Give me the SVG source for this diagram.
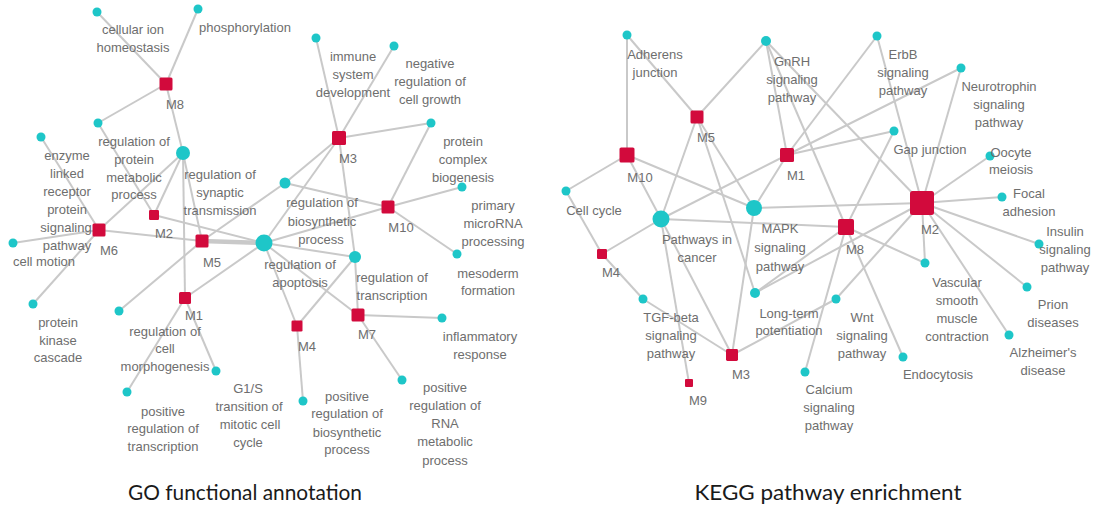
<svg xmlns="http://www.w3.org/2000/svg" width="1099" height="509" viewBox="0 0 1099 509">
<style>
.e{stroke:#c9c9c9;stroke-width:2;fill:none}
.ek{stroke:#c9c9c9;stroke-width:4.5;fill:none}
.c{fill:#1ec6c8}
.s{fill:#d20a3c}
text{font-family:"Liberation Sans",Arial,sans-serif;font-size:13px;fill:#6e6e6e;text-anchor:middle}
.t{font-family:Lato,"Liberation Sans",sans-serif;font-size:22px;fill:#1a1a1a}
</style>
<rect width="1099" height="509" fill="#ffffff"/>
<g id="connectors">
<line class="e" x1="97" y1="12" x2="166" y2="84"/>
<line class="e" x1="198" y1="9" x2="166" y2="84"/>
<line class="e" x1="166" y1="84" x2="98" y2="123"/>
<line class="e" x1="166" y1="84" x2="183" y2="153"/>
<line class="e" x1="41" y1="137" x2="99" y2="230"/>
<line class="e" x1="98" y1="123" x2="154" y2="215"/>
<line class="e" x1="183" y1="153" x2="154" y2="215"/>
<line class="e" x1="183" y1="153" x2="99" y2="230"/>
<line class="e" x1="183" y1="153" x2="185" y2="298"/>
<line class="e" x1="183" y1="153" x2="202" y2="241"/>
<line class="e" x1="99" y1="230" x2="202" y2="241"/>
<line class="e" x1="154" y1="215" x2="264" y2="243"/>
<line class="e" x1="99" y1="230" x2="13" y2="243"/>
<line class="e" x1="99" y1="230" x2="33" y2="304"/>
<line class="ek" x1="202" y1="241" x2="264" y2="243"/>
<line class="e" x1="202" y1="241" x2="119" y2="311"/>
<line class="e" x1="185" y1="298" x2="264" y2="243"/>
<line class="e" x1="185" y1="298" x2="127" y2="392"/>
<line class="e" x1="185" y1="298" x2="216" y2="371"/>
<line class="e" x1="202" y1="241" x2="285" y2="183"/>
<line class="e" x1="285" y1="183" x2="339" y2="138"/>
<line class="e" x1="264" y1="243" x2="339" y2="138"/>
<line class="e" x1="285" y1="183" x2="388" y2="207"/>
<line class="e" x1="339" y1="138" x2="316" y2="38"/>
<line class="e" x1="339" y1="138" x2="394" y2="46"/>
<line class="e" x1="339" y1="138" x2="431" y2="123"/>
<line class="e" x1="431" y1="123" x2="388" y2="207"/>
<line class="e" x1="339" y1="138" x2="355" y2="257"/>
<line class="e" x1="388" y1="207" x2="462" y2="187"/>
<line class="e" x1="388" y1="207" x2="457" y2="254"/>
<line class="e" x1="264" y1="243" x2="388" y2="207"/>
<line class="e" x1="264" y1="243" x2="355" y2="257"/>
<line class="e" x1="264" y1="243" x2="358" y2="315"/>
<line class="e" x1="264" y1="243" x2="297" y2="326"/>
<line class="e" x1="355" y1="257" x2="297" y2="326"/>
<line class="e" x1="355" y1="257" x2="358" y2="315"/>
<line class="e" x1="358" y1="315" x2="442" y2="318"/>
<line class="e" x1="358" y1="315" x2="402" y2="380"/>
<line class="e" x1="297" y1="326" x2="303" y2="401"/>

<line class="e" x1="627" y1="35" x2="627" y2="155"/>
<line class="e" x1="627" y1="35" x2="697" y2="117"/>
<line class="e" x1="766" y1="41" x2="697" y2="117"/>
<line class="e" x1="766" y1="41" x2="787" y2="155"/>
<line class="e" x1="766" y1="41" x2="846" y2="227"/>
<line class="e" x1="766" y1="41" x2="922" y2="203"/>
<line class="e" x1="627" y1="155" x2="566" y2="191"/>
<line class="e" x1="627" y1="155" x2="661" y2="219"/>
<line class="e" x1="627" y1="155" x2="754" y2="208"/>
<line class="e" x1="697" y1="117" x2="661" y2="219"/>
<line class="e" x1="697" y1="117" x2="754" y2="208"/>
<line class="e" x1="697" y1="117" x2="755" y2="293"/>
<line class="e" x1="661" y1="219" x2="787" y2="155"/>
<line class="e" x1="787" y1="155" x2="754" y2="208"/>
<line class="e" x1="787" y1="155" x2="877" y2="36"/>
<line class="e" x1="787" y1="155" x2="961" y2="68"/>
<line class="e" x1="787" y1="155" x2="894" y2="131"/>
<line class="e" x1="877" y1="36" x2="922" y2="203"/>
<line class="e" x1="961" y1="68" x2="922" y2="203"/>
<line class="e" x1="894" y1="131" x2="846" y2="227"/>
<line class="e" x1="990" y1="156" x2="922" y2="203"/>
<line class="e" x1="1002" y1="197" x2="922" y2="203"/>
<line class="e" x1="1039" y1="244" x2="922" y2="203"/>
<line class="e" x1="754" y1="208" x2="922" y2="203"/>
<line class="e" x1="661" y1="219" x2="846" y2="227"/>
<line class="e" x1="755" y1="293" x2="846" y2="227"/>
<line class="e" x1="755" y1="293" x2="922" y2="203"/>
<line class="e" x1="846" y1="227" x2="925" y2="263"/>
<line class="e" x1="846" y1="227" x2="903" y2="357"/>
<line class="e" x1="846" y1="227" x2="805" y2="372"/>
<line class="e" x1="922" y1="203" x2="836" y2="299"/>
<line class="e" x1="922" y1="203" x2="925" y2="263"/>
<line class="e" x1="922" y1="203" x2="1009" y2="335"/>
<line class="e" x1="922" y1="203" x2="1027" y2="287"/>
<line class="e" x1="661" y1="219" x2="732" y2="355"/>
<line class="e" x1="643" y1="299" x2="732" y2="355"/>
<line class="e" x1="602" y1="254" x2="643" y2="299"/>
<line class="e" x1="566" y1="191" x2="602" y2="254"/>
<line class="e" x1="602" y1="254" x2="661" y2="219"/>
<line class="e" x1="661" y1="219" x2="689" y2="383"/>
<line class="e" x1="754" y1="208" x2="732" y2="355"/>
<line class="e" x1="732" y1="355" x2="836" y2="299"/>
</g>

<g id="go-cih"><circle class="c" cx="97" cy="12" r="4.5"/><text x="133" y="34">cellular ion</text><text x="133" y="52">homeostasis</text></g>
<g id="go-phos"><circle class="c" cx="198" cy="9" r="4.5"/><text x="245" y="32">phosphorylation</text></g>
<g id="go-M8"><rect class="s" x="159.5" y="77.5" width="13" height="13" rx="1.5"/><text x="175" y="109">M8</text></g>
<g id="go-rpm"><circle class="c" cx="98" cy="123" r="4.5"/><text x="134" y="146">regulation of</text><text x="134" y="164">protein</text><text x="134" y="182">metabolic</text><text x="134" y="199">process</text></g>
<g id="go-enz"><circle class="c" cx="41" cy="137" r="4.5"/><text x="67" y="160">enzyme</text><text x="67" y="178">linked</text><text x="67" y="196">receptor</text><text x="67" y="214">protein</text><text x="66" y="232">signaling</text><text x="67" y="250">pathway</text></g>
<g id="go-syn"><circle class="c" cx="183" cy="153" r="7"/><text x="220" y="179">regulation of</text><text x="220" y="197">synaptic</text><text x="220" y="215">transmission</text></g>
<g id="go-M2"><rect class="s" x="149" y="210" width="10" height="10" rx="1.2"/><text x="164" y="238">M2</text></g>
<g id="go-M6"><rect class="s" x="92.5" y="223.5" width="13" height="13" rx="1.5"/><text x="109" y="255">M6</text></g>
<g id="go-cm"><circle class="c" cx="13" cy="243" r="4.5"/><text x="44" y="266">cell motion</text></g>
<g id="go-M5"><rect class="s" x="195.5" y="234.5" width="13" height="13" rx="1.5"/><text x="212" y="267">M5</text></g>
<g id="go-apo"><circle class="c" cx="264" cy="243" r="8.5"/><text x="300" y="269">regulation of</text><text x="300" y="287">apoptosis</text></g>
<g id="go-pkc"><circle class="c" cx="33" cy="304" r="4.5"/><text x="58" y="327">protein</text><text x="58" y="345">kinase</text><text x="58" y="362">cascade</text></g>
<g id="go-rcm"><circle class="c" cx="119" cy="311" r="4.5"/><text x="165" y="336">regulation of</text><text x="165" y="353">cell</text><text x="165" y="371">morphogenesis</text></g>
<g id="go-M1"><rect class="s" x="179" y="292" width="12" height="12" rx="1.5"/><text x="194" y="320">M1</text></g>
<g id="go-prt"><circle class="c" cx="127" cy="392" r="4.5"/><text x="163" y="416">positive</text><text x="163" y="433">regulation of</text><text x="163" y="451">transcription</text></g>
<g id="go-g1s"><circle class="c" cx="216" cy="371" r="4.5"/><text x="248" y="393">G1/S</text><text x="249" y="411">transition of</text><text x="250" y="429">mitotic cell</text><text x="248" y="447">cycle</text></g>
<g id="go-isd"><circle class="c" cx="316" cy="38" r="4.5"/><text x="353" y="61">immune</text><text x="353" y="79">system</text><text x="353" y="97">development</text></g>
<g id="go-nrcg"><circle class="c" cx="394" cy="46" r="4.5"/><text x="430" y="68">negative</text><text x="430" y="86">regulation of</text><text x="430" y="104">cell growth</text></g>
<g id="go-M3"><rect class="s" x="332" y="131" width="14" height="14" rx="1.5"/><text x="348" y="163">M3</text></g>
<g id="go-pcb"><circle class="c" cx="431" cy="123" r="4.5"/><text x="463" y="146">protein</text><text x="463" y="164">complex</text><text x="463" y="182">biogenesis</text></g>
<g id="go-rbp"><circle class="c" cx="285" cy="183" r="5.5"/><text x="322" y="207">regulation of</text><text x="322" y="226">biosynthetic</text><text x="321" y="244">process</text></g>
<g id="go-M10"><rect class="s" x="381.5" y="200.5" width="13" height="13" rx="1.5"/><text x="401" y="232">M10</text></g>
<g id="go-pmp"><circle class="c" cx="462" cy="187" r="4.5"/><text x="493" y="210">primary</text><text x="493" y="228">microRNA</text><text x="493" y="246">processing</text></g>
<g id="go-rt"><circle class="c" cx="355" cy="257" r="6"/><text x="392" y="282">regulation of</text><text x="392" y="300">transcription</text></g>
<g id="go-mf"><circle class="c" cx="457" cy="254" r="4.5"/><text x="488" y="278">mesoderm</text><text x="488" y="295">formation</text></g>
<g id="go-M7"><rect class="s" x="351.5" y="308.5" width="13" height="13" rx="1.5"/><text x="367" y="339">M7</text></g>
<g id="go-ir"><circle class="c" cx="442" cy="318" r="4.5"/><text x="480" y="341">inflammatory</text><text x="480" y="359">response</text></g>
<g id="go-M4"><rect class="s" x="291.5" y="320.5" width="11" height="11" rx="1.3"/><text x="307" y="351">M4</text></g>
<g id="go-prb"><circle class="c" cx="303" cy="401" r="4.5"/><text x="347" y="401">positive</text><text x="347" y="418">regulation of</text><text x="347" y="437">biosynthetic</text><text x="347" y="454">process</text></g>
<g id="go-prr"><circle class="c" cx="402" cy="380" r="4.5"/><text x="445" y="392">positive</text><text x="445" y="410">regulation of</text><text x="445" y="428">RNA</text><text x="445" y="446">metabolic</text><text x="445" y="465">process</text></g>

<g id="kg-adh"><circle class="c" cx="627" cy="35" r="4.5"/><text x="655" y="59">Adherens</text><text x="655" y="77">junction</text></g>
<g id="kg-gnrh"><circle class="c" cx="766" cy="41" r="5"/><text x="792" y="66">GnRH</text><text x="792" y="84">signaling</text><text x="792" y="102">pathway</text></g>
<g id="kg-M5"><rect class="s" x="690.5" y="110.5" width="13" height="13" rx="1.5"/><text x="706" y="142">M5</text></g>
<g id="kg-M10"><rect class="s" x="619.5" y="147.5" width="15" height="15" rx="1.6"/><text x="640" y="182">M10</text></g>
<g id="kg-M1"><rect class="s" x="780" y="148" width="14" height="14" rx="1.5"/><text x="796" y="180">M1</text></g>
<g id="kg-cc"><circle class="c" cx="566" cy="191" r="4.5"/><text x="594" y="215">Cell cycle</text></g>
<g id="kg-mapk"><circle class="c" cx="754" cy="208" r="8"/><text x="780" y="233">MAPK</text><text x="780" y="252">signaling</text><text x="780" y="271">pathway</text></g>
<g id="kg-pic"><circle class="c" cx="661" cy="219" r="8.5"/><text x="697" y="244">Pathways in</text><text x="697" y="262">cancer</text></g>
<g id="kg-M4"><rect class="s" x="597" y="249" width="10" height="10" rx="1.2"/><text x="611" y="277">M4</text></g>
<g id="kg-tgf"><circle class="c" cx="643" cy="299" r="4.5"/><text x="671" y="322">TGF-beta</text><text x="671" y="340">signaling</text><text x="671" y="358">pathway</text></g>
<g id="kg-ltp"><circle class="c" cx="755" cy="293" r="5"/><text x="789" y="318">Long-term</text><text x="789" y="335">potentiation</text></g>
<g id="kg-M3"><rect class="s" x="726" y="349" width="12" height="12" rx="1.4"/><text x="741" y="379">M3</text></g>
<g id="kg-M9"><rect class="s" x="685" y="379" width="8" height="8" rx="1"/><text x="698" y="405">M9</text></g>
<g id="kg-cal"><circle class="c" cx="805" cy="372" r="4.5"/><text x="829" y="394">Calcium</text><text x="829" y="412">signaling</text><text x="829" y="430">pathway</text></g>
<g id="kg-wnt"><circle class="c" cx="836" cy="299" r="4.5"/><text x="862" y="322">Wnt</text><text x="862" y="340">signaling</text><text x="862" y="358">pathway</text></g>
<g id="kg-endo"><circle class="c" cx="903" cy="357" r="4.5"/><text x="938" y="379">Endocytosis</text></g>
<g id="kg-vas"><circle class="c" cx="925" cy="263" r="4.5"/><text x="957" y="287">Vascular</text><text x="957" y="305">smooth</text><text x="957" y="323">muscle</text><text x="957" y="341">contraction</text></g>
<g id="kg-alz"><circle class="c" cx="1009" cy="335" r="4.5"/><text x="1043" y="357">Alzheimer's</text><text x="1043" y="375">disease</text></g>
<g id="kg-prion"><circle class="c" cx="1027" cy="287" r="4.5"/><text x="1053" y="309">Prion</text><text x="1053" y="327">diseases</text></g>
<g id="kg-ins"><circle class="c" cx="1039" cy="244" r="4.5"/><text x="1065" y="236">Insulin</text><text x="1065" y="254">signaling</text><text x="1065" y="272">pathway</text></g>
<g id="kg-focal"><circle class="c" cx="1002" cy="197" r="4.5"/><text x="1029" y="198">Focal</text><text x="1029" y="216">adhesion</text></g>
<g id="kg-M2"><rect class="s" x="910" y="191" width="24" height="24" rx="2.5"/><text x="930" y="234">M2</text></g>
<g id="kg-M8"><rect class="s" x="838" y="219" width="16" height="16" rx="1.8"/><text x="855" y="254">M8</text></g>
<g id="kg-ooc"><circle class="c" cx="990" cy="156" r="4.5"/><text x="1011" y="157">Oocyte</text><text x="1011" y="174">meiosis</text></g>
<g id="kg-gap"><circle class="c" cx="894" cy="131" r="4.5"/><text x="930" y="154">Gap junction</text></g>
<g id="kg-neu"><circle class="c" cx="961" cy="68" r="4.5"/><text x="999" y="91">Neurotrophin</text><text x="999" y="109">signaling</text><text x="999" y="127">pathway</text></g>
<g id="kg-erbb"><circle class="c" cx="877" cy="36" r="4.5"/><text x="903" y="59">ErbB</text><text x="903" y="77">signaling</text><text x="903" y="95">pathway</text></g>

<g id="titles">
<text class="t" x="245" y="500" textLength="234" lengthAdjust="spacingAndGlyphs">GO functional annotation</text>
<text class="t" x="828" y="500" textLength="267" lengthAdjust="spacingAndGlyphs">KEGG pathway enrichment</text>
</g>
</svg>
